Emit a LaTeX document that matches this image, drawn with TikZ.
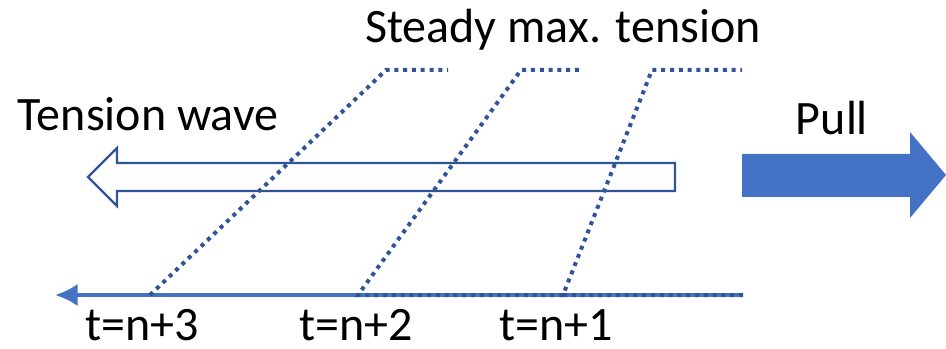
\documentclass[tikz,border=0pt]{standalone}
\usepackage{fontspec}
\setmainfont{Carlito}
\usetikzlibrary{positioning,arrows.meta,calc}
\definecolor{cblue}{HTML}{4472C4}
\definecolor{cdark}{HTML}{2F5597}
\tikzset{
  wave/.style={cdark, line width=3pt, dash pattern=on 3pt off 3.6pt},
  lbl/.style={font=\fontsize{36}{40}\selectfont, text=black, inner sep=0pt}
}
\begin{document}
\begin{tikzpicture}[x=0.75pt, y=-0.75pt]
      \useasboundingbox (0,0) rectangle (946,349);
      % rope with the travelling front
      \coordinate (ropeR) at (743,295);
      \coordinate (ropeL) at (55,295);
      \draw[cblue, line width=3.2pt, -{Latex[length=17pt, width=17pt]}] (ropeR) -- (ropeL);
      % tension profiles at three times
      \coordinate (foot1) at (563,295); \coordinate (top1) at (652,70); \coordinate (end1) at (742,70);
      \coordinate (foot2) at (358,295); \coordinate (top2) at (521,70); \coordinate (end2) at (583,70);
      \coordinate (foot3) at (150,295); \coordinate (top3) at (386,70); \coordinate (end3) at (448,70);
      \draw[wave] (ropeR) -- (foot1) -- (top1) -- (end1);
      \draw[wave] (foot1) -- (foot2) -- (top2) -- (end2);
      \draw[wave] (foot3) -- (top3) -- (end3);
      % hollow arrow for the wave
      \draw[cdark, line width=1.6pt]
        (675,163) -- (117,163) -- (117,148) -- (88,177) -- (117,206) -- (117,191) -- (675,191) -- cycle;
      % pull arrow
      \fill[cblue] (742,154) -- (910,154) -- (910,132) -- (946,175) -- (910,218) -- (910,197) -- (742,197) -- cycle;
      \node[lbl] (steady) at (563,30) {Steady max. tension};
      \node[lbl] (wavetxt) at (148,114) {Tension wave};
      \node[lbl] (pull) at (832,118) {Pull};
      \node[lbl] (t3) at (142,325) {t=n+3};
      \node[lbl] (t2) at (356,325) {t=n+2};
      \node[lbl] (t1) at (556,325) {t=n+1};
    \end{tikzpicture}
\end{document}
